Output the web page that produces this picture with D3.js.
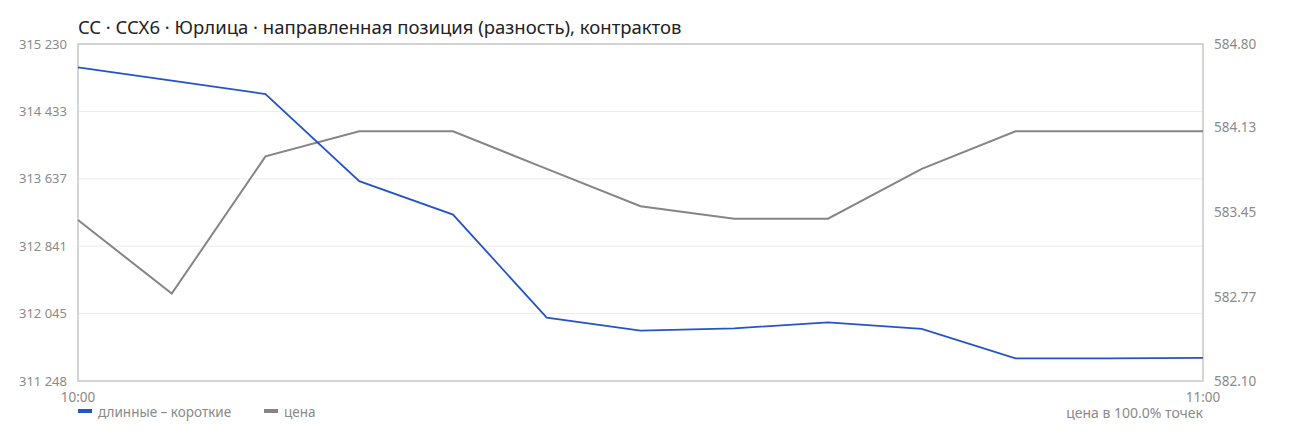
<!DOCTYPE html>
<html>
<head>
<meta charset="utf-8">
<script src="https://cdn.jsdelivr.net/npm/d3@7"></script>
<style>
body { margin: 0; background: #fff; }
svg { display: block; font-family: "Noto Sans", sans-serif; }
</style>
</head>
<body>
<svg id="chart"></svg>
<script>
// данные: шаг 5 минут с 10:00 до 11:00
let times = ["10:00", "10:05", "10:10", "10:15", "10:20", "10:25", "10:30",
             "10:35", "10:40", "10:45", "10:50", "10:55", "11:00"];
let netPos = [314953, 314796, 314639, 313610, 313215, 311996, 311843,
              311871, 311940, 311863, 311516, 311516, 311522];
let price = [583.39, 582.80, 583.90, 584.10, 584.10, 583.80, 583.50,
             583.40, 583.40, 583.80, 584.10, 584.10, 584.10];
let leftTicks = [311248, 312045, 312841, 313637, 314433, 315230];
let rightTicks = [582.10, 582.77, 583.45, 584.13, 584.80];
let xLabels = ["10:00", "11:00"];

let width = 1290;
let height = 438;
let marginLeft = 78;
let marginRight = 87;
let marginTop = 44;
let marginBottom = 57;

let svg = d3.select("#chart")
            .attr("width", width)
            .attr("height", height);

let plotW = width - marginLeft - marginRight;
let plotH = height - marginTop - marginBottom;

let scaleX = d3.scalePoint()
               .domain(times)
               .range([0, plotW]);
let scaleL = d3.scaleLinear()
               .domain([311248, 315230])
               .range([plotH, 0]);
let scaleR = d3.scaleLinear()
               .domain([582.10, 584.80])
               .range([plotH, 0]);

let g = svg.append("g")
           .attr("transform", `translate(${marginLeft}, ${marginTop})`);

// сетка по левой оси
g.selectAll(".grid")
 .data(leftTicks)
 .enter()
 .append("line")
 .attr("x1", 0)
 .attr("x2", plotW)
 .attr("y1", d => scaleL(d))
 .attr("y2", d => scaleL(d))
 .style("stroke", "#ececec")
 .style("stroke-width", 1);

// рамка
g.append("rect")
 .attr("width", plotW)
 .attr("height", plotH)
 .style("fill", "none")
 .style("stroke", "#c8c8c8")
 .style("stroke-width", 1.5);

// подписи левой оси
g.selectAll(".ltick")
 .data(leftTicks)
 .enter()
 .append("text")
 .attr("x", -11)
 .attr("y", d => scaleL(d))
 .attr("dy", "0.35em")
 .attr("text-anchor", "end")
 .style("font-size", "13px")
 .style("fill", "#8a8a8a")
 .text(d => d3.format(",")(d).replace(/,/g, " "));

// подписи правой оси
g.selectAll(".rtick")
 .data(rightTicks)
 .enter()
 .append("text")
 .attr("x", plotW + 11)
 .attr("y", d => scaleR(d))
 .attr("dy", "0.35em")
 .attr("text-anchor", "start")
 .style("font-size", "13.5px")
 .style("fill", "#8a8a8a")
 .text(d => d.toFixed(2));

// подписи оси времени
g.selectAll(".xtick")
 .data(xLabels)
 .enter()
 .append("text")
 .attr("x", d => scaleX(d))
 .attr("y", plotH + 21)
 .attr("text-anchor", "middle")
 .style("font-size", "13.5px")
 .style("fill", "#8a8a8a")
 .text(d => d);

let lineL = d3.line()
              .x((d, i) => scaleX(times[i]))
              .y(d => scaleL(d));
let lineR = d3.line()
              .x((d, i) => scaleX(times[i]))
              .y(d => scaleR(d));

g.append("path")
 .datum(price)
 .attr("d", lineR)
 .style("fill", "none")
 .style("stroke", "#858585")
 .style("stroke-width", 2);

g.append("path")
 .datum(netPos)
 .attr("d", lineL)
 .style("fill", "none")
 .style("stroke", "#2454c8")
 .style("stroke-width", 1.8);

// заголовок
svg.append("text")
   .attr("x", marginLeft)
   .attr("y", 34)
   .style("font-size", "18.5px")
   .style("fill", "#222")
   .text("CC · CCX6 · Юрлица · направленная позиция (разность), контрактов");

// легенда
let legend = [
  {name: "длинные – короткие", color: "#2454c8", x: 78},
  {name: "цена", color: "#858585", x: 264}
];
let lg = svg.selectAll(".legend")
            .data(legend)
            .enter()
            .append("g")
            .attr("transform", d => `translate(${d.x}, 409)`);
lg.append("rect")
  .attr("width", 14)
  .attr("height", 4)
  .attr("fill", d => d.color);
lg.append("text")
  .attr("x", 20)
  .attr("y", 7)
  .attr("dy", "0.1em")
  .style("font-size", "13.5px")
  .style("fill", "#8a8a8a")
  .text(d => d.name);

svg.append("text")
   .attr("x", marginLeft + plotW)
   .attr("y", 418)
   .attr("text-anchor", "end")
   .style("font-size", "14px")
   .style("fill", "#8a8a8a")
   .text("цена в 100.0% точек");
</script>
</body>
</html>
